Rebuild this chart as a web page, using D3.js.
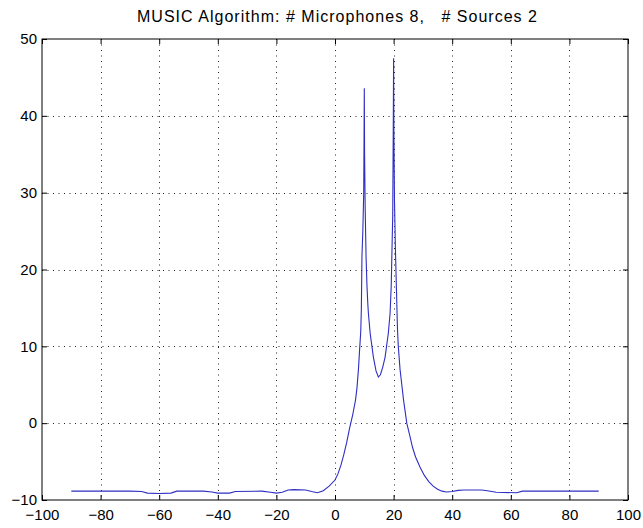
<!DOCTYPE html>
<html>
<head>
<meta charset="utf-8">
<script src="https://cdn.jsdelivr.net/npm/d3@7"></script>
<style>
  body { margin: 0; background: #fff; }
  svg text { font-family: "Liberation Sans", Arial, sans-serif; fill: #000; }
</style>
</head>
<body>
<div class="canvas"></div>
<script>
// MUSIC pseudo-spectrum
const angles = [-90, -80, -70, -66, -64, -60, -56, -54, -45, -42, -40, -36, -34, -25, -22, -20, -18, -16, -14, -10, -8, -6, -4, -2,
  0, 1, 2, 3, 4, 5, 6, 7, 7.5, 8, 8.4, 8.8, 9, 9.2, 9.5, 9.8, 9.9, 10, 10.1, 10.3, 10.6, 10.9, 11.2, 11.4, 12, 13.1, 14, 14.8,
  15.5, 16.3, 17.1, 18.2, 18.8, 19.2, 19.4, 19.7, 19.9, 20, 20.1, 20.3, 20.6, 21, 21.3, 21.6, 22.2, 22.8, 23.4, 24.5, 25.5,
  26.5, 27.5, 29, 30.5, 32, 33.5, 35, 36.5, 38, 40, 42, 44, 50, 52, 55, 62, 64, 70, 80, 90];
const power = [-8.85, -8.85, -8.85, -8.9, -9.1, -9.15, -9.1, -8.85, -8.85, -8.95, -9.1, -9.1, -8.9, -8.85, -9.0, -9.1, -9.0, -8.7, -8.65, -8.7, -8.9, -9.05, -8.8, -8.2,
  -7.4, -6.6, -5.5, -4.1, -2.5, -0.6, 1.0, 3.0, 4.6, 7.0, 9.6, 12.0, 15, 21.7, 25, 30, 36.3, 43.6, 35, 28, 21.7, 18, 15.5, 14.3, 11.7, 8.6, 6.8, 6.0,
  6.3, 7.3, 8.6, 11.7, 14.3, 18, 21.7, 27, 39.3, 47.5, 38, 29, 23, 17, 12.5, 10, 7, 5, 3.0, 0, -1.6,
  -3.2, -4.4, -5.7, -6.8, -7.6, -8.2, -8.6, -8.85, -8.95, -8.9, -8.75, -8.7, -8.7, -8.8, -9.0, -9.05, -8.85, -8.85, -8.85, -8.85];

const xTicks = [-100, -80, -60, -40, -20, 0, 20, 40, 60, 80, 100];
const yTicks = [-10, 0, 10, 20, 30, 40, 50];
const title = 'MUSIC Algorithm: # Microphones 8,   # Sources 2';

const W = 643, H = 528;
const margin = { top: 39, right: 15, bottom: 28, left: 42 };

const svg = d3.select('.canvas')
    .append('svg')
    .attr('width', W)
    .attr('height', H);

const x = d3.scaleLinear().domain([-100, 100]).range([margin.left, W - margin.right]);
const y = d3.scaleLinear().domain([-10, 50]).range([H - margin.bottom, margin.top]);

// dotted grid
const grid = svg.append('g')
    .attr('stroke', '#222')
    .attr('stroke-width', 1)
    .attr('stroke-dasharray', '1,4.5');

grid.selectAll('line.vx')
    .data(xTicks.slice(1, -1))
    .join('line')
    .attr('class', 'vx')
    .attr('x1', d => Math.round(x(d)) + 0.5).attr('x2', d => Math.round(x(d)) + 0.5)
    .attr('y1', y(50)).attr('y2', y(-10));

grid.selectAll('line.hy')
    .data(yTicks.slice(1, -1))
    .join('line')
    .attr('class', 'hy')
    .attr('y1', d => Math.round(y(d)) + 0.5).attr('y2', d => Math.round(y(d)) + 0.5)
    .attr('x1', x(-100)).attr('x2', x(100));

// the spectrum
const pts = angles.map((a, i) => [a, power[i]]);
const line = d3.line().x(d => x(d[0])).y(d => y(d[1]));

svg.append('path')
    .datum(pts)
    .attr('d', line)
    .attr('fill', 'none')
    .attr('stroke', '#2e2ec4')
    .attr('stroke-width', 1.1);

// axes, MATLAB style: ticks point inward on all four sides
const tl = 5;
svg.append('g')
    .attr('transform', `translate(0, ${y(-10)})`)
    .call(d3.axisBottom(x).tickValues(xTicks).tickSize(-tl).tickPadding(9).tickSizeOuter(0))
    .call(g => g.select('.domain').remove());

svg.append('g')
    .attr('transform', `translate(0, ${y(50)})`)
    .call(d3.axisTop(x).tickValues(xTicks).tickSize(-tl).tickFormat('').tickSizeOuter(0))
    .call(g => g.select('.domain').remove());

svg.append('g')
    .attr('transform', `translate(${x(-100)}, 0)`)
    .call(d3.axisLeft(y).tickValues(yTicks).tickSize(-tl).tickPadding(5).tickSizeOuter(0))
    .call(g => g.select('.domain').remove());

svg.append('g')
    .attr('transform', `translate(${x(100)}, 0)`)
    .call(d3.axisRight(y).tickValues(yTicks).tickSize(-tl).tickFormat('').tickSizeOuter(0))
    .call(g => g.select('.domain').remove());

svg.selectAll('.tick line').attr('stroke', '#000');
svg.selectAll('.tick text')
    .attr('font-size', 15)
    .attr('font-family', '"Liberation Sans", Arial, sans-serif');

// box
svg.append('rect')
    .attr('x', x(-100)).attr('y', y(50))
    .attr('width', x(100) - x(-100)).attr('height', y(-10) - y(50))
    .attr('fill', 'none')
    .attr('stroke', '#000')
    .attr('stroke-width', 1);

svg.append('text')
    .attr('x', 337)
    .attr('y', 22)
    .attr('text-anchor', 'middle')
    .attr('font-size', 16)
    .attr('textLength', 400)
    .attr('lengthAdjust', 'spacing')
    .style('white-space', 'pre')
    .text(title);
</script>
</body>
</html>
